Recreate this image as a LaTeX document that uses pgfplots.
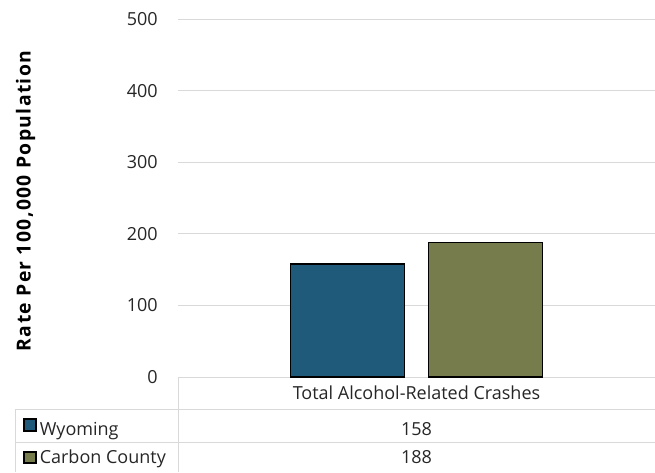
\documentclass[border=0pt]{standalone}
\usepackage{pgfplots}
\pgfplotsset{compat=1.18}
\usepackage{fontspec}
\setmainfont{Open Sans}
\newfontfamily\labfont{Open Sans}[LetterSpace=7]
\definecolor{wy}{HTML}{1F5A7B}
\definecolor{cc}{HTML}{767C4C}
\definecolor{gridc}{HTML}{D9D9D9}
\definecolor{txt}{HTML}{262626}
\begin{document}
\begin{tikzpicture}[x=0.75pt,y=0.75pt,font=\fontsize{13.5}{16}\selectfont]
\useasboundingbox (0,0) rectangle (655,472);
\begin{axis}[
  at={(133.5pt,71.25pt)}, anchor=south west,
  scale only axis, width=357.75pt, height=268.5pt,
  xmin=-0.5, xmax=0.5, ymin=0, ymax=500,
  ytick={0,100,200,300,400,500}, xtick=\empty,
  ymajorgrids, grid style={gridc, line width=0.75pt},
  axis line style={draw=none},
  major tick length=0pt,
  /pgf/number format/assume math mode=true,
  tick label style={font=\fontsize{13.5}{16}\selectfont, text=txt},
  yticklabel style={inner sep=0pt, xshift=-15pt},
  clip=false,
]
\addplot[ybar, bar width=85.5pt, bar shift=-51.75pt, fill=wy, draw=black, line width=1.1pt] coordinates {(0,158)};
\addplot[ybar, bar width=85.5pt, bar shift=51.75pt, fill=cc, draw=black, line width=1.1pt] coordinates {(0,188)};
\end{axis}
% data table
\draw[gridc, line width=0.75pt] (15,63) -- (655,63);
\draw[gridc, line width=0.75pt] (15,29.5) -- (655,29.5);
\draw[gridc, line width=0.75pt] (15,0) -- (15,63);
\draw[gridc, line width=0.75pt] (178,0) -- (178,95);
\node[text=txt, anchor=base, inner sep=0pt] at (416.5,72.7) {Total Alcohol-Related Crashes};
\node[text=txt, anchor=base, inner sep=0pt] at (416.5,37) {158};
\node[text=txt, anchor=base, inner sep=0pt] at (416.5,8.7) {188};
\filldraw[fill=wy, draw=black, line width=0.9pt] (24,41) rectangle (36,53);
\node[text=txt, anchor=base west, inner sep=0pt] at (39.5,37) {Wyoming};
\filldraw[fill=cc, draw=black, line width=0.9pt] (24,9) rectangle (36,20);
\node[text=txt, anchor=base west, inner sep=0pt] at (39.5,8.7) {Carbon County};
\node[rotate=90, font=\fontsize{14.5}{16}\labfont\bfseries, text=black] at (25.5,271) {Rate Per 100,000 Population};
\end{tikzpicture}
\end{document}
